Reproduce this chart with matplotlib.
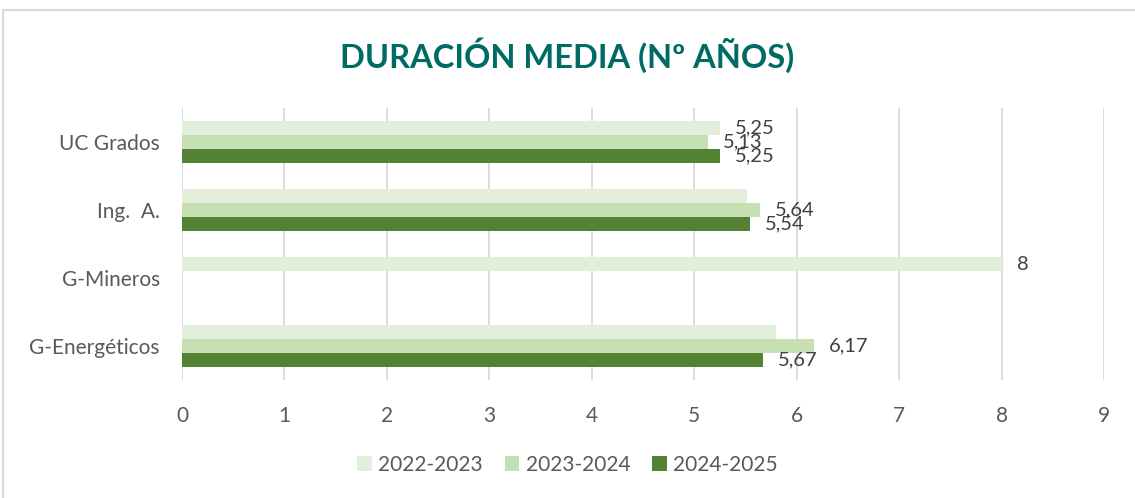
import matplotlib.pyplot as plt
import numpy as np
from matplotlib.patches import Rectangle

plt.rcParams['font.family'] = ['Lato', 'DejaVu Sans']

categories = ['UC Grados', 'Ing.  A.', 'G-Mineros', 'G-Energéticos']
series_names = ['2022-2023', '2023-2024', '2024-2025']
v_2022 = [5.25, 5.52, 8.0, 5.80]
v_2023 = [5.13, 5.64, np.nan, 6.17]
v_2024 = [5.25, 5.54, np.nan, 5.67]
# labels shown in the picture (None = no label)
lab_2022 = ['5,25', None, '8', None]
lab_2023 = ['5,13', '5,64', None, '6,17']
lab_2024 = ['5,25', '5,54', None, '5,67']
colors = ['#e2efda', '#c6e0b4', '#548235']

W, H = 1135, 498
fig = plt.figure(figsize=(W / 100, H / 100), dpi=100)
fig.patches.append(Rectangle((3 / W, -0.01), 1.0, 1 - 10 / H + 0.01,
                             transform=fig.transFigure, fill=False,
                             edgecolor='#d9d9d9', linewidth=1.5))

ax = fig.add_axes([182 / W, 1 - 380 / H, (1104 - 182) / W, (380 - 108) / H])

y = np.arange(len(categories))
bh = 0.205
series = [v_2022, v_2023, v_2024]
labels = [lab_2022, lab_2023, lab_2024]
for i, (vals, labs) in enumerate(zip(series, labels)):
  pos = y + (i - 1) * bh
  ax.barh(pos, vals, height=bh, color=colors[i], label=series_names[i])
  for p, v, t in zip(pos, vals, labs):
    if t is None:
      continue
    ax.annotate(t, (v, p), xytext=(11, 0), textcoords='offset points',
                va='center', ha='left', fontsize=14.5, color='#404040')

ax.set_xlim(0, 9)
ax.set_ylim(len(categories) - 0.5, -0.5)
ax.set_xticks(range(10))
ax.set_yticks(y)
ax.set_yticklabels(categories)
ax.grid(axis='x', color='#d9d9d9', linewidth=1.3)
ax.set_axisbelow(True)
for s in ax.spines.values():
  s.set_visible(False)
ax.tick_params(axis='both', length=0, labelsize=15, labelcolor='#595959')
ax.tick_params(axis='x', pad=19)
ax.tick_params(axis='y', pad=16)

fig.text(0.5, 1 - 55 / H, 'DURACIÓN MEDIA (Nº AÑOS)', ha='center', va='center',
         fontsize=23.5, fontweight='bold', color='#006b63')

fig.legend(loc='center', bbox_to_anchor=(0.5, 1 - 465 / H), ncol=3,
           frameon=False, fontsize=15, labelcolor='#595959',
           handlelength=0.7, handleheight=0.7, columnspacing=1.05,
           handletextpad=0.3)

fig.savefig('out.png', dpi=100)
